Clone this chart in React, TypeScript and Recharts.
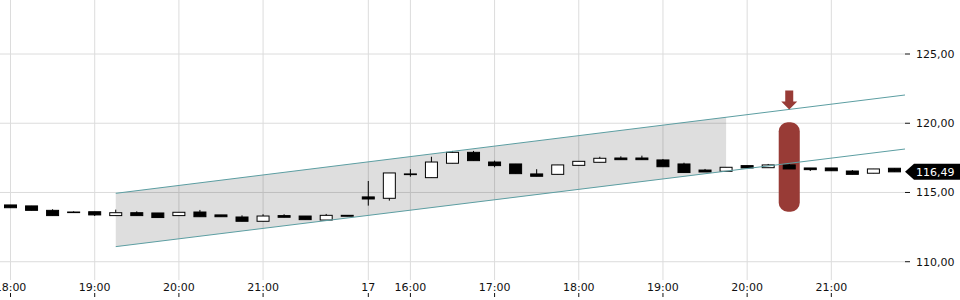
import React from 'react';
import {
  Area,
  Bar,
  CartesianGrid,
  ComposedChart,
  ReferenceArea,
  ReferenceDot,
  ReferenceLine,
  XAxis,
  YAxis,
} from 'recharts';

// 15 min candles, evening of day 16 then day 17
const times = [
  '18:00', '18:15', '18:30', '18:45', '19:00', '19:15', '19:30', '19:45', '20:00', '20:15',
  '20:30', '20:45', '21:00', '21:15', '21:30', '21:45', '22:00',
  '15:30', '15:45', '16:00', '16:15', '16:30', '16:45', '17:00', '17:15', '17:30', '17:45',
  '18:00', '18:15', '18:30', '18:45', '19:00', '19:15', '19:30', '19:45', '20:00', '20:15',
  '20:30', '20:45', '21:00', '21:15', '21:30', '21:45',
];
const opens = [
  114.1, 114.03, 113.71, 113.59, 113.61, 113.33, 113.54, 113.52, 113.33, 113.59,
  113.38, 113.23, 112.92, 113.33, 113.3, 113.01, 113.28,
  114.68, 114.58, 116.34, 116.07, 117.11, 117.9, 117.2, 117.06, 116.34, 116.31,
  116.96, 117.18, 117.49, 117.49, 117.35, 117.06, 116.62, 116.53, 116.94, 116.79,
  116.99, 116.77, 116.77, 116.55, 116.39, 116.75,
];
const highs = [
  114.1, 114.03, 113.79, 113.64, 113.61, 113.76, 113.64, 113.52, 113.57, 113.74,
  113.38, 113.35, 113.43, 113.43, 113.3, 113.45, 113.35,
  115.83, 116.41, 116.68, 117.58, 118.0, 118.0, 117.3, 117.06, 116.68, 116.99,
  117.25, 117.58, 117.61, 117.66, 117.42, 117.15, 116.7, 116.82, 116.94, 117.06,
  117.06, 116.77, 116.77, 116.62, 116.7, 116.75,
];
const lows = [
  113.9, 113.71, 113.33, 113.56, 113.3, 113.33, 113.33, 113.19, 113.33, 113.25,
  113.25, 112.92, 112.92, 113.21, 113.04, 113.01, 113.28,
  114.05, 114.41, 116.14, 116.07, 117.11, 117.3, 116.82, 116.36, 116.17, 116.31,
  116.96, 117.18, 117.37, 117.37, 116.86, 116.44, 116.48, 116.53, 116.77, 116.79,
  116.7, 116.55, 116.57, 116.31, 116.39, 116.49,
];
const closes = [
  113.9, 113.71, 113.33, 113.56, 113.38, 113.54, 113.33, 113.19, 113.57, 113.25,
  113.25, 112.92, 113.3, 113.21, 113.04, 113.35, 113.35,
  114.53, 116.41, 116.29, 117.2, 117.9, 117.3, 116.94, 116.36, 116.17, 116.99,
  117.25, 117.47, 117.37, 117.37, 116.86, 116.44, 116.48, 116.82, 116.77, 116.99,
  116.7, 116.65, 116.57, 116.31, 116.7, 116.49,
];

const tickIdx = [0, 4, 8, 12, 17, 19, 23, 27, 31, 35, 39];
const tickLabels = ['18:00', '19:00', '20:00', '21:00', '17', '16:00', '17:00', '18:00', '19:00', '20:00', '21:00'];
const yTicks = [110, 115, 120, 125];

// trend channel
const channelIdx = [5, 34];
const channelUpper = [114.94, 120.43];
const channelLower = [111.09, 116.54];
const lineIdx = [5, 42.5];
const upperLine = [114.94, 122.04];
const lowerLine = [111.09, 118.14];

const markerIdx = 37;
const markerLow = 113.61;
const markerHigh = 120.07;
const arrowTip = 121.0;
const lastPrice = 116.49;

const data = times.map((t, i) => {
  const ch = channelIdx.indexOf(i);
  return {
    i,
    t,
    o: opens[i],
    h: highs[i],
    l: lows[i],
    c: closes[i],
    range: [lows[i], highs[i]],
    band: ch >= 0 ? [channelLower[ch], channelUpper[ch]] : undefined,
  };
});

const FONT = 'DejaVu Sans';
const RED = '#983b36';
const TEAL = '#5c9ea2';
const GRID = '#dcdcdc';
const fmt = (v: number) => v.toFixed(2).replace('.', ',');

// eslint-disable-next-line @typescript-eslint/no-explicit-any
const Candle = (props: any) => {
  const { x, y, width, height, payload } = props;
  const { o, h, l, c } = payload;
  const cx = x + width / 2;
  const k = h - l > 0 ? height / (h - l) : 0;
  const yOf = (v: number) => y + (h - v) * k;
  const top = yOf(Math.max(o, c));
  const bot = yOf(Math.min(o, c));
  return (
    <g>
      <line x1={cx} x2={cx} y1={y} y2={y + height} stroke='#000' strokeWidth={1} />
      <rect
        x={cx - 6}
        y={top}
        width={12}
        height={Math.max(bot - top, 0.6)}
        fill={c >= o ? '#fff' : '#000'}
        stroke='#000'
        strokeWidth={1}
      />
    </g>
  );
};

// eslint-disable-next-line @typescript-eslint/no-explicit-any
const XTick = (props: any) => {
  const { x, payload } = props;
  const label = tickLabels[tickIdx.indexOf(payload.value)];
  return (
    <g>
      <text x={x} y={291} textAnchor='middle' fontFamily={FONT} fontSize={11} fill='#111'>
        {label}
      </text>
      <line x1={x} x2={x} y1={293} y2={297} stroke='#111' />
    </g>
  );
};

// eslint-disable-next-line @typescript-eslint/no-explicit-any
const PriceTag = (props: any) => {
  const { viewBox } = props;
  const x = viewBox.x + viewBox.width;
  const y = viewBox.y;
  return (
    <g>
      <polygon
        points={`${x},${y} ${x + 9},${y - 8} ${x + 55},${y - 8} ${x + 55},${y + 8} ${x + 9},${y + 8}`}
        fill='#000'
      />
      <text x={x + 11} y={y + 4} fontFamily={FONT} fontSize={11} fill='#fff'>
        {fmt(lastPrice)}
      </text>
    </g>
  );
};

export default function App() {
  return (
    <div style={{ position: 'absolute', left: 0, top: 0, width: 960, height: 300, background: '#fff' }}>
      <ComposedChart width={960} height={300} data={data} margin={{ top: 0, right: 0, bottom: 0, left: 0 }}>
        <CartesianGrid
          stroke={GRID}
          // eslint-disable-next-line @typescript-eslint/no-explicit-any
          {...({ verticalValues: tickIdx, horizontalValues: yTicks } as any)}
        />
        <XAxis
          dataKey='i'
          type='number'
          domain={[-0.5, 42.5]}
          ticks={tickIdx}
          interval={0}
          height={20}
          axisLine={false}
          tickLine={false}
          tick={<XTick />}
          allowDataOverflow
        />
        <YAxis
          orientation='right'
          type='number'
          domain={[108.68, 128.9]}
          ticks={yTicks}
          width={55}
          axisLine={false}
          tickSize={5}
          tickMargin={6}
          tickLine={{ stroke: '#111' }}
          tick={{ fontFamily: FONT, fontSize: 11, fill: '#111' }}
          tickFormatter={fmt}
          allowDataOverflow
        />
        <Area
          dataKey='band'
          type='linear'
          connectNulls
          stroke='none'
          fill='#000'
          fillOpacity={0.13}
          isAnimationActive={false}
        />
        <ReferenceArea
          x1={markerIdx - 0.5}
          x2={markerIdx + 0.5}
          y1={markerLow}
          y2={markerHigh}
          shape={(p: any) => (
            <rect x={p.x} y={p.y} width={p.width} height={p.height} rx={9} ry={9} fill={RED} />
          )}
        />
        <Bar dataKey='range' barSize={13} shape={<Candle />} isAnimationActive={false} />
        <ReferenceLine
          segment={[{ x: lineIdx[0], y: upperLine[0] }, { x: lineIdx[1], y: upperLine[1] }]}
          stroke={TEAL}
          strokeWidth={1}
        />
        <ReferenceLine
          segment={[{ x: lineIdx[0], y: lowerLine[0] }, { x: lineIdx[1], y: lowerLine[1] }]}
          stroke={TEAL}
          strokeWidth={1}
        />
        <ReferenceDot
          x={markerIdx}
          y={arrowTip}
          shape={(p: any) => (
            <path
              d={`M${p.cx - 4},${p.cy - 19} H${p.cx + 4} V${p.cy - 8} H${p.cx + 8} L${p.cx},${p.cy} L${p.cx - 8},${p.cy - 8} H${p.cx - 4} Z`}
              fill={RED}
            />
          )}
        />
        <ReferenceLine y={lastPrice} stroke='none' label={<PriceTag />} />
      </ComposedChart>
    </div>
  );
}
